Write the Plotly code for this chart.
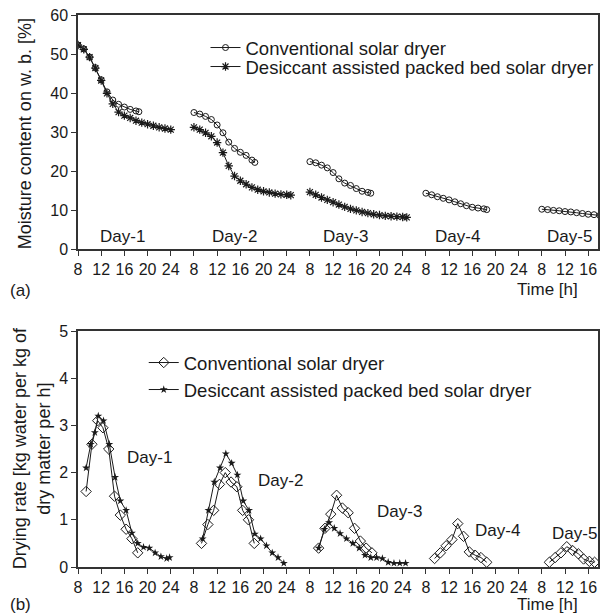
import plotly.graph_objects as go
from plotly.subplots import make_subplots

# ---------------- (a) Moisture content on w.b. [%] ----------------
conv_mc_d1_h = [8, 9, 10, 11, 12, 13, 14, 15, 16, 17, 18, 18.5]
conv_mc_d1 = [52.3, 51.3, 49.2, 46.5, 43.4, 40.3, 38.2, 37.1, 36.4, 35.8, 35.4, 35.2]
conv_mc_d2_h = [8, 9, 10, 11, 12, 13, 14, 15, 16, 17, 18, 18.5]
conv_mc_d2 = [35.0, 34.6, 34.0, 33.2, 31.8, 29.8, 27.4, 25.8, 24.8, 24.0, 22.8, 22.2]
conv_mc_d3_h = [8, 9, 10, 11, 12, 13, 14, 15, 16, 17, 18, 18.5]
conv_mc_d3 = [22.4, 22.1, 21.5, 20.8, 19.6, 18.0, 16.9, 16.3, 15.5, 14.8, 14.5, 14.3]
conv_mc_d4_h = [8, 9, 10, 11, 12, 13, 14, 15, 16, 17, 18, 18.5]
conv_mc_d4 = [14.3, 13.9, 13.4, 13.0, 12.6, 12.1, 11.6, 11.1, 10.7, 10.5, 10.3, 10.1]
conv_mc_d5_h = [8, 9, 10, 11, 12, 13, 14, 15, 16, 17, 18]
conv_mc_d5 = [10.2, 10.1, 9.9, 9.8, 9.6, 9.5, 9.3, 9.1, 8.9, 8.8, 8.6]

dsc_mc_d1_h = [8, 9, 10, 11, 12, 13, 14, 15, 16, 17, 18, 19, 20, 21, 22, 23, 24]
dsc_mc_d1 = [52.3, 51.2, 49.2, 46.4, 43.2, 39.9, 37.2, 35.1, 34.2, 33.6, 32.9, 32.4, 32.0, 31.6, 31.2, 30.9, 30.6]
dsc_mc_d2_h = [8, 9, 10, 11, 12, 13, 14, 15, 16, 17, 18, 19, 20, 21, 22, 23, 24, 24.7]
dsc_mc_d2 = [31.2, 30.6, 29.8, 28.9, 27.3, 24.7, 21.3, 18.7, 17.5, 16.6, 15.8, 15.2, 14.8, 14.5, 14.2, 14.0, 13.9, 13.8]
dsc_mc_d3_h = [8, 9, 10, 11, 12, 13, 14, 15, 16, 17, 18, 19, 20, 21, 22, 23, 24, 24.7]
dsc_mc_d3 = [14.6, 13.9, 13.2, 12.6, 12.0, 11.4, 10.8, 10.3, 9.9, 9.5, 9.2, 8.9, 8.7, 8.5, 8.4, 8.3, 8.2, 8.1]

# ---------------- (b) Drying rate ----------------
conv_dr_d1_h = [9.4, 10.4, 11.4, 12.3, 13.3, 14.3, 15.3, 16.3, 17.3, 18.3]
conv_dr_d1 = [1.6, 2.6, 3.1, 2.95, 2.5, 1.5, 1.1, 0.8, 0.6, 0.3]
conv_dr_d2_h = [9.3, 10.4, 11.4, 12.4, 13.4, 14.4, 15.4, 16.4, 17.4, 18.4]
conv_dr_d2 = [0.5, 0.9, 1.2, 1.75, 2.0, 1.8, 1.7, 1.2, 1.0, 0.5]
conv_dr_d3_h = [9.5, 10.6, 11.6, 12.6, 13.6, 14.6, 15.7, 16.7, 17.7, 18.7]
conv_dr_d3 = [0.4, 0.82, 1.12, 1.52, 1.25, 1.15, 0.82, 0.55, 0.4, 0.3]
conv_dr_d4_h = [9.5, 10.5, 11.5, 12.5, 13.5, 14.5, 15.5, 16.5, 17.5, 18.5]
conv_dr_d4 = [0.18, 0.3, 0.45, 0.58, 0.92, 0.65, 0.32, 0.25, 0.2, 0.1]
conv_dr_d5_h = [9.3, 10.3, 11.3, 12.3, 13.3, 14.3, 15.2, 16.2, 17.1]
conv_dr_d5 = [0.1, 0.2, 0.3, 0.43, 0.35, 0.28, 0.17, 0.12, 0.1]

dsc_dr_d1_h = [9.4, 10.2, 10.9, 11.5, 12.4, 13.4, 14.4, 15.3, 16.3, 17.3, 18.3, 19.3, 20.3, 21.3, 22.3, 23.3, 23.8]
dsc_dr_d1 = [2.1, 2.6, 2.85, 3.2, 3.1, 2.6, 1.9, 1.4, 1.2, 0.72, 0.5, 0.42, 0.4, 0.3, 0.22, 0.18, 0.2]
dsc_dr_d2_h = [9.5, 10.5, 11.5, 12.5, 13.5, 14.5, 15.5, 16.5, 17.5, 18.5, 19.5, 20.5, 21.5, 22.5, 23.5]
dsc_dr_d2 = [0.6, 1.2, 1.8, 2.1, 2.4, 2.2, 1.95, 1.4, 1.2, 0.7, 0.6, 0.45, 0.3, 0.2, 0.08]
dsc_dr_d3_h = [9.5, 10.5, 11.3, 12.2, 13.2, 14.3, 15.4, 16.5, 17.5, 18.5, 19.5, 20.5, 21.5, 22.5, 23.5, 24.5]
dsc_dr_d3 = [0.4, 0.8, 0.94, 0.82, 0.71, 0.6, 0.5, 0.4, 0.25, 0.2, 0.2, 0.18, 0.1, 0.08, 0.08, 0.08]

day_labels = ["Day-1", "Day-2", "Day-3", "Day-4", "Day-5"]
tick_hours = [8, 12, 16, 20, 24]
day5_tick_hours = [8, 12, 16]
series_names = ["Conventional solar dryer", "Desiccant assisted packed bed solar dryer"]

DAY_SPAN = 20  # hours shown per day on the axis (8 .. 28)


def to_axis(day, hours):
    return [(day - 1) * DAY_SPAN + h for h in hours]


def join_days(pairs):
    xs, ys = [], []
    for day, hrs, vals in pairs:
        if xs:
            xs.append(None)
            ys.append(None)
        xs += to_axis(day, hrs)
        ys += vals
    return xs, ys


FONT = "Arial, Liberation Sans, sans-serif"
INK = "#1a1a1a"

fig = make_subplots(rows=2, cols=1)

# (a)
x, y = join_days([(1, conv_mc_d1_h, conv_mc_d1), (2, conv_mc_d2_h, conv_mc_d2),
                  (3, conv_mc_d3_h, conv_mc_d3), (4, conv_mc_d4_h, conv_mc_d4),
                  (5, conv_mc_d5_h, conv_mc_d5)])
fig.add_trace(go.Scatter(x=x, y=y, mode="lines+markers", name=series_names[0],
                         line=dict(color=INK, width=1),
                         marker=dict(symbol="circle-open", size=6, color=INK, line=dict(width=1)),
                         legend="legend"), row=1, col=1)
x, y = join_days([(1, dsc_mc_d1_h, dsc_mc_d1), (2, dsc_mc_d2_h, dsc_mc_d2),
                  (3, dsc_mc_d3_h, dsc_mc_d3)])
fig.add_trace(go.Scatter(x=x, y=y, mode="lines+markers", name=series_names[1],
                         line=dict(color=INK, width=1),
                         marker=dict(symbol="asterisk-open", size=7, color=INK, line=dict(width=1.2)),
                         legend="legend3"), row=1, col=1)

# (b)
x, y = join_days([(1, conv_dr_d1_h, conv_dr_d1), (2, conv_dr_d2_h, conv_dr_d2),
                  (3, conv_dr_d3_h, conv_dr_d3), (4, conv_dr_d4_h, conv_dr_d4),
                  (5, conv_dr_d5_h, conv_dr_d5)])
fig.add_trace(go.Scatter(x=x, y=y, mode="lines+markers", name=series_names[0],
                         line=dict(color=INK, width=1),
                         marker=dict(symbol="diamond-open", size=8, color=INK, line=dict(width=1)),
                         legend="legend2"), row=2, col=1)
x, y = join_days([(1, dsc_dr_d1_h, dsc_dr_d1), (2, dsc_dr_d2_h, dsc_dr_d2),
                  (3, dsc_dr_d3_h, dsc_dr_d3)])
fig.add_trace(go.Scatter(x=x, y=y, mode="lines+markers", name=series_names[1],
                         line=dict(color=INK, width=1),
                         marker=dict(symbol="star", size=6, color=INK, line=dict(width=0)),
                         legend="legend4"), row=2, col=1)

# ticks
tickvals, ticktext = [], []
for d in range(1, 5):
    tickvals += to_axis(d, tick_hours)
    ticktext += [str(h) for h in tick_hours]
tickvals += to_axis(5, day5_tick_hours)
ticktext += [str(h) for h in day5_tick_hours]

W, H = 601, 616
ML, MR, MT, MB = 78, 1, 15, 49
PW = W - ML - MR
PH = H - MT - MB
PX_PER_H = 5.82
x_range = [8, 8 + PW / PX_PER_H]

top_dom = [(567 - 249) / PH, 1.0]
bot_dom = [0.0, (567 - 331) / PH]

axis_common = dict(showline=True, linecolor="#333", linewidth=1.5, mirror=True,
                   ticks="outside", ticklen=5, tickwidth=1.2, tickcolor="#333",
                   showgrid=False, zeroline=False,
                   tickfont=dict(family=FONT, size=16, color=INK))

fig.update_xaxes(range=x_range, tickmode="array", tickvals=tickvals, ticktext=ticktext,
                 **axis_common)
fig.update_yaxes(**axis_common)
fig.update_yaxes(range=[0, 60], dtick=10, domain=top_dom, row=1, col=1)
fig.update_yaxes(range=[0, 5], dtick=1, domain=bot_dom, row=2, col=1)


def px_x(px):
    return (px - ML) / PW


def px_y(py):
    return (H - MB - py) / PH


def label(xp, yp, text, size=17, angle=0):
    return dict(x=px_x(xp), y=px_y(yp), xref="paper", yref="paper", text=text,
                xanchor="center", yanchor="middle", textangle=angle, showarrow=False,
                font=dict(family=FONT, size=size, color=INK))


annotations = []
# Day labels (a)
for i, (g, v) in enumerate([(15.6, 3.1), (35.0, 3.1), (54.2, 3.1), (73.5, 3.1), (92.7, 3.1)]):
    annotations.append(dict(x=g, y=v, xref="x", yref="y", text=day_labels[i], showarrow=False,
                            xanchor="center", yanchor="middle",
                            font=dict(family=FONT, size=17, color=INK)))
# Day labels (b)
for i, (g, v) in enumerate([(20.4, 2.33), (43.0, 1.84), (63.5, 1.17), (80.3, 0.78), (93.6, 0.72)]):
    annotations.append(dict(x=g, y=v, xref="x2", yref="y2", text=day_labels[i], showarrow=False,
                            xanchor="center", yanchor="middle",
                            font=dict(family=FONT, size=17, color=INK)))

annotations += [
    label(25, 134, "Moisture content on w. b. [%]", 18, -90),
    label(31, 448, "Drying rate [kg water per kg of<br>dry matter per h]", 18, -90),
    label(549, 289, "Time [h]"),
    label(549, 604, "Time [h]"),
    label(20, 290, "(a)"),
    label(20, 604, "(b)"),
]

LEG_FONT = dict(family=FONT, size=18.5, color=INK)


def legend_at(xp, row_center):
    return dict(x=px_x(xp), y=px_y(row_center - 17), xanchor="left", yanchor="top",
                bgcolor="rgba(0,0,0,0)", font=LEG_FONT, itemwidth=30)


fig.update_layout(
    width=W, height=H,
    margin=dict(l=ML, r=MR, t=MT, b=MB),
    paper_bgcolor="white", plot_bgcolor="white",
    font=dict(family=FONT, color=INK),
    annotations=annotations,
    legend=legend_at(206, 46),
    legend3=legend_at(206, 65),
    legend2=legend_at(144, 361),
    legend4=legend_at(144, 388),
    showlegend=True,
)

fig.write_html("out.html", post_script="document.body.style.margin='0';",
               config={"displayModeBar": False})
